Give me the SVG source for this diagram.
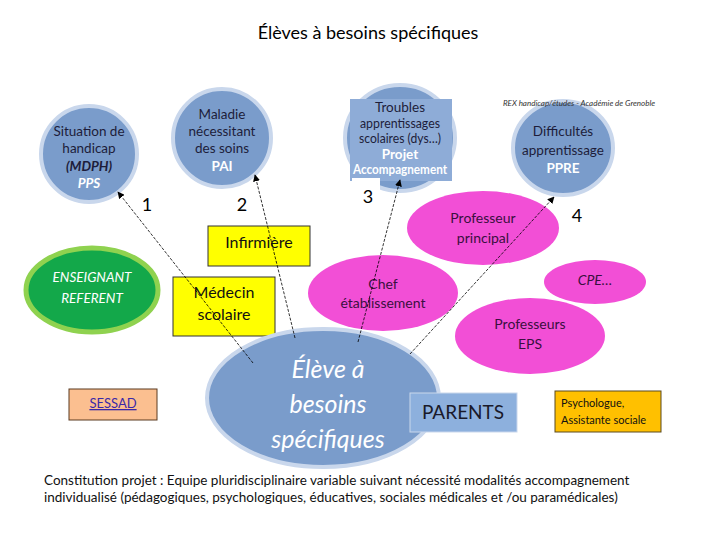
<svg xmlns="http://www.w3.org/2000/svg" width="720" height="540" viewBox="0 0 720 540">
<style>
text{font-family:Lato,"Open Sans","Liberation Sans",sans-serif}
.blue{fill:#7a9ccb;stroke:#c9d7ec;stroke-width:4}
.pink{fill:#f24fd6}
.wt{fill:#fff;font-size:13.5px;text-anchor:middle}
.dk{fill:#1d1d3a;font-size:13.5px;text-anchor:middle}
.pk{fill:#3a1040;font-size:14px;text-anchor:middle}
.num{font-size:18px;fill:#000;text-anchor:middle}
.yel{fill:#ffff00;stroke:#333;stroke-width:1}
.conn{stroke:#000;stroke-width:0.8;stroke-dasharray:3,1.5;fill:none;marker-end:url(#ah)}
</style>
<defs>
<marker id="ah" viewBox="0 0 10 10" refX="9" refY="5" markerWidth="7" markerHeight="7" orient="auto-start-reverse" markerUnits="userSpaceOnUse">
<path d="M0,0 L10,5 L0,10 z" fill="#000"/>
</marker>
</defs>
<rect width="720" height="540" fill="#fff"/>
<text x="368" y="39" font-size="18" text-anchor="middle" fill="#000">Élèves à besoins spécifiques</text>

<g id="n-handicap">
<circle class="blue" cx="89" cy="154" r="48"/>
<text class="dk" x="89" y="136">Situation de</text>
<text class="dk" x="89" y="153">handicap</text>
<text class="dk" x="89" y="171" font-weight="bold" font-style="italic">(MDPH)</text>
<text class="wt" x="89" y="188" font-size="12" font-weight="bold" font-style="italic">PPS</text>
</g>
<g id="n-maladie">
<circle class="blue" cx="222" cy="138" r="49"/>
<text class="dk" x="222" y="119">Maladie</text>
<text class="dk" x="222" y="136">nécessitant</text>
<text class="dk" x="222" y="153">des soins</text>
<text class="wt" x="222" y="171" font-weight="bold">PAI</text>
</g>
<g id="n-troubles">
<ellipse class="blue" cx="400" cy="138" rx="55" ry="53"/>
<rect x="350" y="99" width="102" height="82" fill="#8eacd7"/>
<text class="dk" x="400" y="112">Troubles</text>
<text class="dk" x="400" y="128" textLength="80" lengthAdjust="spacingAndGlyphs">apprentissages</text>
<text class="dk" x="400" y="143" textLength="82" lengthAdjust="spacingAndGlyphs">scolaires (dys…)</text>
<text class="wt" x="400" y="159" font-size="12" font-weight="bold">Projet</text>
<text class="wt" x="400" y="174" font-size="12" font-weight="bold" textLength="94" lengthAdjust="spacingAndGlyphs">Accompagnement</text>
</g>
<g id="n-difficultes">
<ellipse class="blue" cx="563" cy="148" rx="50" ry="47"/>
<text class="dk" x="563" y="136">Difficultés</text>
<text class="dk" x="563" y="155">apprentissage</text>
<text class="wt" x="563" y="173" font-weight="bold">PPRE</text>
</g>
<text x="579" y="106" font-size="8" font-style="italic" text-anchor="middle" fill="#333">REX handicap/études - Académie de Grenoble</text>

<g id="labels">
<rect x="233" y="188" width="32" height="34" fill="#fff"/>
<rect x="352" y="178" width="28" height="32" fill="#fff"/>
<rect x="568" y="200" width="22" height="30" fill="#fff"/>
<text class="num" x="147" y="211">1</text>
<text class="num" x="242" y="211">2</text>
<text class="num" x="368" y="203">3</text>
<text class="num" x="577" y="222">4</text>
</g>

<g id="n-infirmiere">
<rect class="yel" x="208" y="226" width="102" height="40"/>
<text x="259" y="248" font-size="16" text-anchor="middle" fill="#111">Infirmière</text>
</g>
<g id="n-medecin">
<rect class="yel" x="173" y="277" width="102" height="59"/>
<text x="224" y="298" font-size="16" text-anchor="middle" fill="#111">Médecin</text>
<text x="224" y="320" font-size="16" text-anchor="middle" fill="#111">scolaire</text>
</g>
<g id="n-enseignant">
<ellipse cx="92" cy="290" rx="66" ry="42" fill="#13a84a" stroke="#8fd24f" stroke-width="5"/>
<text class="wt" x="92" y="282" font-style="italic">ENSEIGNANT</text>
<text class="wt" x="92" y="303" font-style="italic">REFERENT</text>
</g>
<g id="n-sessad">
<rect x="69" y="389" width="88" height="31" fill="#fbbf90" stroke="#5a3a20" stroke-width="1"/>
<text x="113" y="408" font-size="13" text-anchor="middle" fill="#3a28a8" text-decoration="underline">SESSAD</text>
</g>

<g id="n-profprincipal">
<ellipse class="pink" cx="483" cy="228" rx="76" ry="37"/>
<text class="pk" x="483" y="223">Professeur</text>
<text class="pk" x="483" y="243">principal</text>
</g>
<g id="n-chef">
<ellipse class="pink" cx="383" cy="293" rx="75" ry="38"/>
<text class="pk" x="383" y="289">Chef</text>
<text class="pk" x="383" y="308">établissement</text>
</g>
<g id="n-cpe">
<ellipse class="pink" cx="595" cy="282" rx="51" ry="22"/>
<text class="pk" x="595" y="285" font-size="12" font-style="italic">CPE…</text>
</g>
<g id="n-profeps">
<ellipse class="pink" cx="530" cy="336" rx="75" ry="38"/>
<text class="pk" x="530" y="329">Professeurs</text>
<text class="pk" x="530" y="349">EPS</text>
</g>

<g id="n-eleve">
<ellipse class="blue" cx="323" cy="398" rx="116" ry="69"/>
<text x="328" y="378" font-size="25" font-style="italic" text-anchor="middle" fill="#fff">Élève à</text>
<text x="328" y="413" font-size="25" font-style="italic" text-anchor="middle" fill="#fff">besoins</text>
<text x="328" y="448" font-size="25" font-style="italic" text-anchor="middle" fill="#fff">spécifiques</text>
</g>
<g id="n-parents">
<rect x="410" y="393" width="107" height="39" fill="#8db0dd" stroke="#c9d7ec" stroke-width="1"/>
<text x="463" y="419" font-size="19" text-anchor="middle" fill="#1a1a2a">PARENTS</text>
</g>
<g id="n-psy">
<rect x="555" y="391" width="106" height="41" fill="#ffc000" stroke="#5a4a20" stroke-width="1"/>
<text x="561" y="407" font-size="11" fill="#111">Psychologue,</text>
<text x="561" y="424" font-size="11" fill="#111">Assistante sociale</text>
</g>

<g id="connectors">
<line class="conn" x1="253" y1="363" x2="118" y2="192"/>
<line class="conn" x1="295" y1="338" x2="255" y2="175"/>
<line class="conn" x1="358" y1="342" x2="400" y2="180"/>
<line class="conn" x1="410" y1="354" x2="554" y2="197"/>
</g>

<text x="44" y="485" font-size="13.5" fill="#111">Constitution projet : Equipe pluridisciplinaire variable suivant nécessité modalités  accompagnement</text>
<text x="44" y="502" font-size="13.5" fill="#111">individualisé (pédagogiques, psychologiques, éducatives, sociales médicales et /ou paramédicales)</text>
</svg>
